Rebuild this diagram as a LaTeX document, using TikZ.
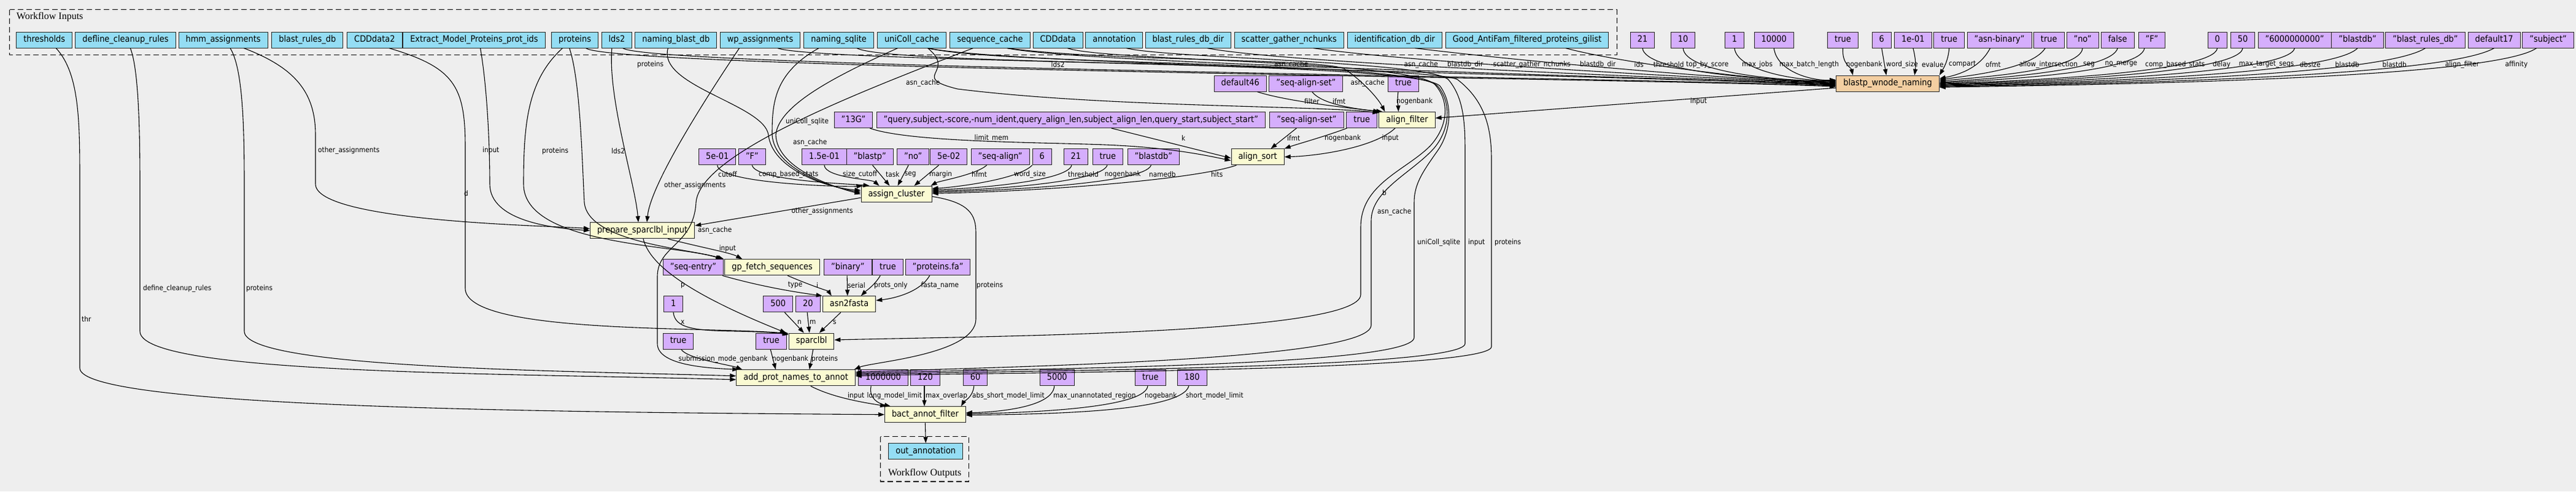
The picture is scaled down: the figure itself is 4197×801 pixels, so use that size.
\documentclass[tikz,border=0pt]{standalone}
\usepackage{fontspec}
\setmainfont{DejaVu Sans}[FakeStretch=0.9]
\newfontfamily\clusfont{Liberation Serif}
\usetikzlibrary{arrows.meta}
\definecolor{bgc}{HTML}{EEEEEE}
\definecolor{inpc}{HTML}{94DDF4}
\definecolor{parc}{HTML}{D5AEFC}
\definecolor{stepc}{HTML}{FAFAD2}
\definecolor{subc}{HTML}{F3CEA1}
\tikzset{
  box/.style={draw=black!85, line width=1pt, minimum height=26pt, inner xsep=11.5pt, inner ysep=0pt, anchor=west, font=\fontsize{14.4}{16}\selectfont, text height=10.5pt, text depth=3pt},
  inp/.style={box, fill=inpc},
  par/.style={box, fill=parc},
  stp/.style={box, fill=stepc},
  sub/.style={box, fill=subc},
  e/.style={line width=1.1pt, -{Triangle[length=10pt,width=7pt]}},
  el/.style={font=\fontsize{11.7}{13}\selectfont, inner sep=0pt, anchor=west},
  clus/.style={draw=black, line width=1.2pt, dash pattern=on 9pt off 5pt},
  clab/.style={font=\clusfont\fontsize{16}{18}\selectfont, inner sep=0pt},
}
\begin{document}
\begin{tikzpicture}[x=1pt,y=-1pt]
\useasboundingbox[fill=bgc] (0,0) rectangle (4197,801);
% clusters
\draw[clus] (15.6,15.7) rectangle (2634.4,89.3);
\node[clab, anchor=west] (inlab) at (26.8,28) {Workflow Inputs};
\draw[clus] (1434.8,711.7) rectangle (1578.6,785);
\node[clab] (outlab) at (1506.7,771.7) {Workflow Outputs};
% ---- inputs
\node[inp] (thresholds) at (26.3,65) {thresholds};
\node[inp] (defline) at (122.3,65) {defline\_cleanup\_rules};
\node[inp] (hmm) at (290.6,65) {hmm\_assignments};
\node[inp] (brdb) at (442.4,65) {blast\_rules\_db};
\node[inp] (cdd2) at (565.2,65) {CDDdata2};
\node[inp] (extract) at (656.3,65) {Extract\_Model\_Proteins\_prot\_ids};
\node[inp] (proteins) at (898.2,65) {proteins};
\node[inp] (lds2) at (979.5,65) {lds2};
\node[inp] (nbdb) at (1034.4,65) {naming\_blast\_db};
\node[inp] (wp) at (1172.8,65) {wp\_assignments};
\node[inp] (nsql) at (1309.4,65) {naming\_sqlite};
\node[inp] (ucc) at (1429,65) {uniColl\_cache};
\node[inp] (seqc) at (1547.3,65) {sequence\_cache};
\node[inp] (cdd) at (1682.6,65) {CDDdata};
\node[inp] (annot) at (1768.3,65) {annotation};
\node[inp] (brdir) at (1865.6,65) {blast\_rules\_db\_dir};
\node[inp] (sgn) at (2010.7,65) {scatter\_gather\_nchunks};
\node[inp] (iddir) at (2194.6,65) {identification\_db\_dir};
\node[inp] (good) at (2354.9,65) {Good\_AntiFam\_filtered\_proteins\_gilist};
% ---- top parameters
\node[par] (p21) at (2655.8,65) {21};
\node[par] (p10) at (2721.9,65) {10};
\node[par] (p1) at (2809.8,65) {1};
\node[par] (p10000) at (2857.6,65) {10000};
\node[par] (ptA) at (2977.2,65) {true};
\node[par] (p6) at (3049.6,65) {6};
\node[par] (p1e) at (3086.2,65) {1e-01};
\node[par] (ptB) at (3150.4,65) {true};
\node[par] (pasn) at (3204.5,65) {"asn-binary"};
\node[par] (ptC) at (3312.9,65) {true};
\node[par] (pno) at (3366.5,65) {"no"};
\node[par] (pfalse) at (3422.8,65) {false};
\node[par] (pF) at (3483.5,65) {"F"};
\node[par] (p0) at (3596.5,65) {0};
\node[par] (p50) at (3633.8,65) {50};
\node[par] (p6e9) at (3678.7,65) {"6000000000"};
\node[par] (pbdb) at (3798.3,65) {"blastdb"};
\node[par] (pbrdb) at (3886.3,65) {"blast\_rules\_db"};
\node[par] (pd17) at (4020.5,65) {default17};
\node[par] (psubj) at (4109.4,65) {"subject"};
% ---- rank 1
\node[par] (pd46) at (1977.7,136.2) {default46};
\node[par] (psas1) at (2067.3,136.2) {"seq-align-set"};
\node[par] (pt1) at (2261.2,136.2) {true};
\node[sub] (blastp) at (2991.3,136.2) {blastp\_wnode\_naming};
% ---- rank 2
\node[box, fill=parc, anchor=east] (p13g) at (1422.3,195.5) {"13G"};
\node[par] (pquery) at (1427.7,195.5) {"query,subject,-score,-num\_ident,query\_align\_len,subject\_align\_len,query\_start,subject\_start"};
\node[par] (psas2) at (2068.4,195.5) {"seq-align-set"};
\node[par] (pt2) at (2193.4,195.5) {true};
\node[stp] (afilter) at (2246.4,195.5) {align\_filter};
% ---- rank 3
\node[par] (p5e1) at (1138,255.8) {5e-01};
\node[par] (pFq) at (1203,255.8) {"F"};
\node[par] (p15e) at (1306,255.8) {1.5e-01};
\node[box, fill=parc, anchor=east] (pblastp) at (1455.8,255.8) {"blastp"};
\node[par] (pno2) at (1461.2,255.8) {"no"};
\node[par] (p5e2) at (1515,255.8) {5e-02};
\node[par] (psa) at (1581.7,255.8) {"seq-align"};
\node[par] (p6b) at (1681.7,255.8) {6};
\node[par] (p21b) at (1732.6,255.8) {21};
\node[par] (pt3) at (1779.5,255.8) {true};
\node[par] (pbdb2) at (1836.6,255.8) {"blastdb"};
\node[stp] (asort) at (2005.5,255.8) {align\_sort};
% ---- rank 4..11
\node[stp] (acl) at (1402.5,316.3) {assign\_cluster};
\node[stp] (prep) at (961,375.8) {prepare\_sparclbl\_input};
\node[par] (pse) at (1079.8,435.8) {"seq-entry"};
\node[stp] (gpf) at (1180.3,435.8) {gp\_fetch\_sequences};
\node[par] (pbin) at (1342.1,435.8) {"binary"};
\node[par] (pt6) at (1421.2,435.8) {true};
\node[par] (pfa) at (1474.6,435.8) {"proteins.fa"};
\node[par] (p1b) at (1081,495.8) {1};
\node[par] (p500) at (1243.4,495.8) {500};
\node[par] (p20) at (1296.2,495.8) {20};
\node[stp] (a2f) at (1339.8,495.8) {asn2fasta};
\node[par] (pt8a) at (1079.8,556.1) {true};
\node[par] (pt8b) at (1231.3,556.1) {true};
\node[stp] (spc) at (1284.8,556.1) {sparclbl};
\node[box, fill=stepc, anchor=east] (apn) at (1393.8,615.8) {add\_prot\_names\_to\_annot};
\node[par] (p1m) at (1398.2,615.8) {1000000};
\node[par] (p120) at (1483,615.8) {120};
\node[par] (p60) at (1568.8,615.8) {60};
\node[par] (p5000) at (1693.75,615.8) {5000};
\node[par] (pt9) at (1849,615.8) {true};
\node[par] (p180) at (1917.9,615.8) {180};
\node[stp] (bact) at (1441,675.8) {bact\_annot\_filter};
\node[inp] (out) at (1447.3,735.8) {out\_annotation};

% ================= edges to blastp_wnode_naming
\draw[e] ([xshift=56.3]proteins.south west) .. controls (1000,112) and (2700,128) .. ([yshift=-5]blastp.west);
\draw[e] ([xshift=35.2]lds2.south west) .. controls (1060,110) and (2700,127) .. ([yshift=-4]blastp.west);
\draw[e] ([xshift=93.7]seqc.south west) .. controls (1760,104) and (2700,125) .. ([yshift=-3]blastp.west);
\draw[e] ([xshift=82.6]ucc.south west) .. controls (1640,106) and (2700,126) .. ([yshift=-2]blastp.west);
\draw[e] ([xshift=101.4]brdir.south west) .. controls (2100,104) and (2750,128) .. ([yshift=-1]blastp.west);
\draw[e] ([xshift=129.3]sgn.south west) .. controls (2300,102) and (2800,129) .. (blastp.west);
\draw[e] ([xshift=110.8]iddir.south west) .. controls (2480,100) and (2820,130) .. ([yshift=1]blastp.west);
\draw[e] ([xshift=196]good.south west) .. controls (2630,100) and (2850,131) .. ([yshift=2]blastp.west);
\draw[e] (p21.south) .. controls (2680,118) and (2880,131) .. ([yshift=3]blastp.west);
\draw[e] (p10.south) .. controls (2745,118) and (2900,132) .. ([yshift=4]blastp.west);
\draw[e] (p1.south) .. controls (2830,116) and (2930,132) .. ([yshift=5]blastp.west);
\draw[e] (p10000.south) .. controls (2895,116) and (2950,132) .. ([yshift=6]blastp.west);
\draw[e] (ptA.south) .. controls (3001,105) and (3016,110) .. ([xshift=27.5]blastp.north west);
\draw[e] (p6.south) -- ([xshift=82]blastp.north west);
\draw[e] (p1e.south) .. controls (3122,98) and (3121,110) .. ([xshift=128]blastp.north west);
\draw[e] (ptB.south) .. controls (3174,100) and (3166,112) .. (blastp.north east);
\draw[e] ([xshift=-15]pasn.south) .. controls (3225,112) and (3190,122) .. ([yshift=8]blastp.east);
\draw[e] ([xshift=-6]ptC.south) .. controls (3310,114) and (3200,124) .. ([yshift=6]blastp.east);
\draw[e] (pno.south) .. controls (3390,116) and (3220,126) .. ([yshift=4]blastp.east);
\draw[e] (pfalse.south) .. controls (3440,116) and (3240,128) .. ([yshift=2]blastp.east);
\draw[e] ([xshift=-12]pF.south) .. controls (3488,118) and (3260,130) .. ([yshift=1]blastp.east);
\draw[e] (p0.south) .. controls (3608,118) and (3300,132) .. (blastp.east);
\draw[e] (p50.south) .. controls (3648,120) and (3320,133) .. ([yshift=-1]blastp.east);
\draw[e] (p6e9.south) .. controls (3730,120) and (3350,134) .. ([yshift=-2]blastp.east);
\draw[e] (pbdb.south) .. controls (3800,122) and (3380,135) .. ([yshift=-3]blastp.east);
\draw[e] (pbrdb.south) .. controls (3880,124) and (3400,136) .. ([yshift=-4]blastp.east);
\draw[e] (pd17.south) .. controls (3980,126) and (3420,137) .. ([yshift=-5]blastp.east);
\draw[e] ([xshift=-19]psubj.south) .. controls (4060,128) and (3440,138) .. ([yshift=-6]blastp.east);
% labels row 105
\node[el] (l1) at (1038,105) {proteins};
\node[el] (l2) at (1712.5,105) {lds2};
\node[el] (l3) at (2076,105) {asn\_cache};
\node[el] (l4) at (2287.5,105) {asn\_cache};
\node[el] (l5) at (2358,105) {blastdb\_dir};
\node[el] (l6) at (2432.6,105) {scatter\_gather\_nchunks};
\node[el] (l7) at (2574,105) {blastdb\_dir};
\node[el] (l8) at (2662.5,105) {ids};
\node[el] (l9) at (2693.7,105) {threshold};
\node[el] (l10) at (2747,105) {top\_by\_score};
\node[el] (l11) at (2838,105) {max\_jobs};
\node[el] (l12) at (2899,105) {max\_batch\_length};
\node[el] (l13) at (3007.6,105) {nogenbank};
\node[el] (l14) at (3073,105) {word\_size};
\node[el] (l15) at (3131,105) {evalue};
\node[el] (l16) at (3175,105) {compart};
\node[el] (l17) at (3235,105) {ofmt};
\node[el] (l18) at (3289.7,105) {allow\_intersection};
\node[el] (l19) at (3393.8,105) {seg};
\node[el] (l20) at (3429.5,105) {no\_merge};
\node[el] (l21) at (3495,105) {comp\_based\_stats};
\node[el] (l22) at (3605,105) {delay};
\node[el] (l23) at (3647.6,105) {max\_target\_seqs};
\node[el] (l24) at (3746.7,105) {dbsize};
\node[el] (l25) at (3804.5,105) {blastdb};
\node[el] (l26) at (3881.4,105) {blastdb};
\node[el] (l27) at (3983.6,105) {align\_filter};
\node[el] (l28) at (4081.4,105) {affinity};

% ================= align_filter
\draw[e] ([yshift=-7]blastp.west) -- ([yshift=3]afilter.east);
\draw[e] ([xshift=70.8]pd46.south west) .. controls (2100,166) and (2200,176) .. ([xshift=1]afilter.north west);
\draw[e] ([xshift=70.5]psas1.south west) .. controls (2150,166) and (2190,176) .. ([xshift=6]afilter.north west);
\draw[e] ([xshift=16.8]pt1.south west) .. controls (2276,165) and (2278,172) .. ([xshift=32]afilter.north west);
\draw[e] ([xshift=93.7]seqc.south west) .. controls (1800,100) and (2150,95) .. (2190,112) .. controls (2220,132) and (2245,160) .. ([xshift=10]afilter.north west);
\draw[e] ([xshift=82.6]ucc.south west) .. controls (1560,118) and (1480,125) .. (1560,145) .. controls (1800,175) and (2150,172) .. ([yshift=-2]afilter.north west);
\node[el] (l29) at (1476,135) {asn\_cache};
\node[el] (l30) at (2200.5,135) {asn\_cache};
\node[el] (l31) at (2125,165) {filter};
\node[el] (l32) at (2171,165) {ifmt};
\node[el] (l33) at (2275,165) {nogenbank};
\node[el] (l34) at (2753.6,165) {input};

% ================= align_sort
\draw[e] ([xshift=26.6]afilter.south west) .. controls (2240,240) and (2150,254) .. (asort.east);
\draw[e] ([xshift=43.9]psas2.south west) -- ([xshift=65]asort.north west);
\draw[e] ([xshift=1]pt2.south west) .. controls (2160,222) and (2110,236) .. (asort.north east);
\draw[e] ([xshift=383]pquery.south west) -- ([yshift=-2]asort.west);
\draw[e] ([xshift=-5]p13g.south east) .. controls (1480,232) and (1700,232) .. (1800,236) .. controls (1900,240) and (1960,252) .. ([yshift=-6]asort.west);
\node[el] (l35) at (1587.5,225) {limit\_mem};
\node[el] (l36) at (1925,225) {k};
\node[el] (l37) at (2097,225) {ifmt};
\node[el] (l38) at (2158,225) {nogenbank};
\node[el] (l39) at (2251.5,225) {input};

% ================= assign_cluster
\draw[e] ([xshift=9]asort.south west) .. controls (1950,292) and (1700,312) .. ([yshift=1]acl.east);
\draw[e] ([xshift=43]pblastp.south west) -- ([xshift=47]acl.north west);
\draw[e] ([xshift=19]pno2.south west) -- ([xshift=60]acl.north west);
\draw[e] ([xshift=14.5]p5e2.south west) -- ([xshift=87]acl.north west);
\draw[e] ([xshift=26]psa.south west) .. controls (1590,285) and (1530,295) .. ([xshift=-2]acl.north east);
\draw[e] (p6b.south west) .. controls (1660,292) and (1560,305) .. ([yshift=9]acl.east);
\draw[e] ([xshift=13.4]p21b.south west) .. controls (1740,296) and (1580,308) .. ([yshift=7]acl.east);
\draw[e] ([xshift=24.5]pt3.south west) .. controls (1795,298) and (1600,310) .. ([yshift=5]acl.east);
\draw[e] ([xshift=38.8]pbdb2.south west) .. controls (1865,300) and (1620,311) .. ([yshift=3]acl.east);
\draw[e] (p15e.south) .. controls (1345,290) and (1420,292) .. ([xshift=30]acl.north west);
\draw[e] (pFq.south) .. controls (1230,295) and (1390,300) .. ([xshift=14]acl.north west);
\draw[e] (p5e1.south) .. controls (1170,300) and (1380,305) .. ([xshift=3]acl.north west);
\draw[e] ([xshift=54]nbdb.south west) .. controls (1070,140) and (1245,170) .. (1252,220) .. controls (1258,275) and (1345,306) .. ([yshift=6]acl.west);
\draw[e] ([xshift=24.6]nsql.south west) .. controls (1260,120) and (1258,170) .. (1258,220) .. controls (1262,275) and (1350,305) .. ([yshift=3]acl.west);
\draw[e] ([xshift=33.5]ucc.south west) .. controls (1370,120) and (1268,170) .. (1264,220) .. controls (1266,274) and (1355,304) .. (acl.west);
\node[el] (l40) at (1170,284) {cutoff};
\node[el] (l41) at (1236,284) {comp\_based\_stats};
\node[el] (l42) at (1373,284) {size\_cutoff};
\node[el] (l43) at (1443,284) {task};
\node[el] (l44) at (1473.7,284) {seg};
\node[el] (l45) at (1513.8,284) {margin};
\node[el] (l46) at (1583,284) {hfmt};
\node[el] (l47) at (1652,284) {word\_size};
\node[el] (l48) at (1740,284) {threshold};
\node[el] (l49) at (1799.6,284) {nogenbank};
\node[el] (l50) at (1872,284) {namedb};
\node[el] (l51) at (1972.8,284) {hits};
\node[el] (l51a) at (1280,198) {uniColl\_sqlite};
\node[el] (l51b) at (1292,232) {asn\_cache};

% ================= prepare_sparclbl_input
\draw[e] ([yshift=-6]acl.west) -- ([yshift=8]prep.east);
\draw[e] ([xshift=126.3]extract.south west) .. controls (795,150) and (798,250) .. (798,300) .. controls (798,360) and (900,372) .. (prep.west);
\draw[e] ([xshift=106.7]hmm.south west) .. controls (480,110) and (514,150) .. (514,220) -- (514,300) .. controls (514,362) and (900,368) .. ([yshift=3]prep.west);
\draw[e] ([xshift=17.4]lds2.south west) .. controls (990,160) and (1035,300) .. ([xshift=79]prep.north west);
\draw[e] ([xshift=31.7]wp.south west) .. controls (1150,160) and (1060,300) .. ([xshift=93]prep.north west);
\node[el] (l52) at (1289.3,344) {other\_assignments};
\node[el] (l53) at (786,245) {input};
\node[el] (l54) at (518,245) {other\_assignments};
\node[el] (l53b) at (996,246) {lds2};
\node[el] (l53c) at (1082,302) {other\_assignments};

% ================= gp_fetch_sequences
\draw[e] ([xshift=127]prep.south west) .. controls (1150,405) and (1190,412) .. ([xshift=29]gpf.north west);
\draw[e] ([xshift=18.3]proteins.south west) .. controls (860,130) and (853,200) .. (853,300) .. controls (853,400) and (1100,398) .. ([xshift=-4]gpf.north west);
\draw[e] ([xshift=29.5]proteins.south west) .. controls (945,130) and (948,250) .. (952,330) .. controls (958,395) and (1120,405) .. ([xshift=-1]gpf.north west);
\node[el] (l55) at (1171.6,405) {input};
\node[el] (l55b) at (883,246) {proteins};

% ================= asn2fasta
\draw[e] ([xshift=-2]pse.south east) .. controls (1250,470) and (1310,478) .. (a2f.north west);
\draw[e] ([xshift=103]gpf.south west) .. controls (1320,465) and (1350,475) .. ([xshift=15]a2f.north west);
\draw[e] ([xshift=38]pbin.south west) -- ([xshift=41]a2f.north west);
\draw[e] ([xshift=13]pt6.south west) .. controls (1425,465) and (1410,475) .. ([xshift=63]a2f.north west);
\draw[e] ([xshift=40]pfa.south west) .. controls (1500,475) and (1460,486) .. ([yshift=6]a2f.east);
\node[el] (l56) at (1283.6,465) {type};
\node[el] (l57) at (1330,465) {i};
\node[el] (l58) at (1381,465) {serial};
\node[el] (l59) at (1424,465) {prots\_only};
\node[el] (l60) at (1500.5,465) {fasta\_name};

% ================= sparclbl
\draw[e] ([xshift=30]a2f.south west) -- ([xshift=50]spc.north west);
\draw[e] ([xshift=35]p500.south west) -- ([xshift=25]spc.north west);
\draw[e] ([xshift=19]p20.south west) -- ([xshift=34]spc.north west);
\draw[e] ([xshift=16]p1b.south west) .. controls (1100,535) and (1130,539) .. (1200,540) .. controls (1250,541) and (1270,543) .. ([yshift=-3]spc.north west);
\draw[e] ([xshift=87]prep.south west) .. controls (1060,440) and (1150,490) .. ([xshift=-4]spc.north west);
\draw[e] ([xshift=68.8]cdd2.south west) .. controls (740,110) and (758,140) .. (758,240) -- (758,470) .. controls (758,545) and (1150,532) .. ([yshift=-1]spc.north west);
\draw[e] ([xshift=56.7]cdd.south west) .. controls (1800,100) and (2300,98) .. (2338,138) .. controls (2362,165) and (2360,205) .. (2330,238) .. controls (2290,278) and (2217,300) .. (2217,370) -- (2217,480) .. controls (2217,545) and (1600,548) .. ([yshift=2]spc.east);
\node[el] (l61) at (1109,465) {p};
\node[el] (l62) at (1109,525) {x};
\node[el] (l63) at (1299,525) {n};
\node[el] (l64) at (1319,525) {m};
\node[el] (l65) at (1357,525) {s};
\node[el] (l66) at (756,315) {d};
\node[el] (l67) at (2252,314) {b};

% ================= add_prot_names_to_annot
\draw[e] ([xshift=40]spc.south west) -- ([xshift=-75]apn.north east);
\draw[e] ([xshift=24]pt8b.south west) -- ([xshift=-130]apn.north east);
\draw[e] ([xshift=30]pt8a.south west) .. controls (1120,585) and (1190,595) .. ([xshift=10]apn.north west);
\draw[e] ([yshift=-4]acl.east) .. controls (1580,330) and (1590,350) .. (1590,380) -- (1590,520) .. controls (1590,578) and (1420,590) .. ([xshift=-2]apn.north east);
\draw[e] ([xshift=90]defline.south west) .. controls (225,110) and (228,200) .. (228,300) -- (228,540) .. controls (228,610) and (800,608) .. ([yshift=-3]apn.west);
\draw[e] ([xshift=84.4]hmm.south west) .. controls (395,110) and (398,200) .. (398,300) -- (398,540) .. controls (398,600) and (900,604) .. ([yshift=3]apn.west);
\draw[e] ([xshift=82.6]ucc.south west) .. controls (1640,108) and (2300,98) .. (2342,140) .. controls (2366,168) and (2362,212) .. (2336,242) .. controls (2300,282) and (2234,310) .. (2234,360) -- (2234,530) .. controls (2234,590) and (1600,598) .. ([yshift=9]apn.east);
\draw[e] ([xshift=86.6]nsql.south west) .. controls (1450,108) and (2300,98) .. (2346,140) .. controls (2368,170) and (2364,215) .. (2342,246) .. controls (2318,280) and (2304,300) .. (2304,330) -- (2304,550) .. controls (2304,600) and (1600,601) .. ([yshift=7]apn.east);
\draw[e] ([xshift=67]annot.south west) .. controls (1900,95) and (2330,100) .. (2360,130) .. controls (2385,160) and (2387,200) .. (2387,250) -- (2387,560) .. controls (2387,603) and (1600,604) .. ([yshift=5]apn.east);
\draw[e] ([xshift=94.2]wp.south west) .. controls (1330,102) and (2340,104) .. (2375,130) .. controls (2420,165) and (2430,210) .. (2430,260) -- (2430,565) .. controls (2430,606) and (1600,607) .. ([yshift=3]apn.east);
\draw[e] ([xshift=38]seqc.south west) .. controls (1400,150) and (1140,250) .. (1134,330) .. controls (1130,400) and (1072,400) .. (1071,450) -- (1071,560) .. controls (1071,595) and (1150,600) .. ([xshift=4]apn.north west);
\node[el] (l68a) at (1137,375) {asn\_cache};
\node[el, anchor=east] (l68) at (1251,585) {submission\_mode\_genbank};
\node[el] (l69) at (1258,585) {nogenbank};
\node[el] (l70) at (1322,585) {proteins};
\node[el] (l71) at (1591,465) {proteins};
\node[el] (l72) at (233,470) {define\_cleanup\_rules};
\node[el] (l73) at (401,470) {proteins};
\node[el] (l73a) at (2244,345) {asn\_cache};
\node[el] (l73b) at (2309,395) {uniColl\_sqlite};
\node[el] (l73c) at (2392,395) {input};
\node[el] (l73d) at (2435,395) {proteins};

% ================= bact_annot_filter
\draw[e] ([xshift=-73]apn.south east) .. controls (1360,650) and (1420,658) .. ([xshift=3]bact.north west);
\draw[e] ([xshift=21]p1m.south west) .. controls (1415,650) and (1432,658) .. ([xshift=10]bact.north west);
\draw[e] ([xshift=23]p120.south west) -- ([xshift=65]bact.north west);
\draw[e] ([xshift=18]p60.south west) .. controls (1585,648) and (1570,655) .. ([xshift=125]bact.north west);
\draw[e] ([xshift=24]p5000.south west) .. controls (1715,665) and (1620,672) .. ([yshift=3]bact.east);
\draw[e] ([xshift=21]pt9.south west) .. controls (1865,668) and (1650,673) .. ([yshift=1]bact.east);
\draw[e] ([xshift=19]p180.south west) .. controls (1925,672) and (1700,675) .. ([yshift=-1]bact.east);
\draw[e] ([xshift=65]thresholds.south west) .. controls (130,120) and (130,200) .. (130,300) -- (130,600) .. controls (130,665) and (900,672) .. (bact.west);
\draw[e] (bact.south) -- (out.north);
\node[el] (l74) at (1381,645) {input};
\node[el] (l75) at (1412.5,645) {long\_model\_limit};
\node[el] (l76) at (1508,645) {max\_overlap};
\node[el] (l77) at (1584,645) {abs\_short\_model\_limit};
\node[el] (l78) at (1716,645) {max\_unannotated\_region};
\node[el] (l79) at (1865,645) {nogebank};
\node[el] (l80) at (1932,645) {short\_model\_limit};
\node[el] (l81) at (133,520) {thr};
\end{tikzpicture}
\end{document}
